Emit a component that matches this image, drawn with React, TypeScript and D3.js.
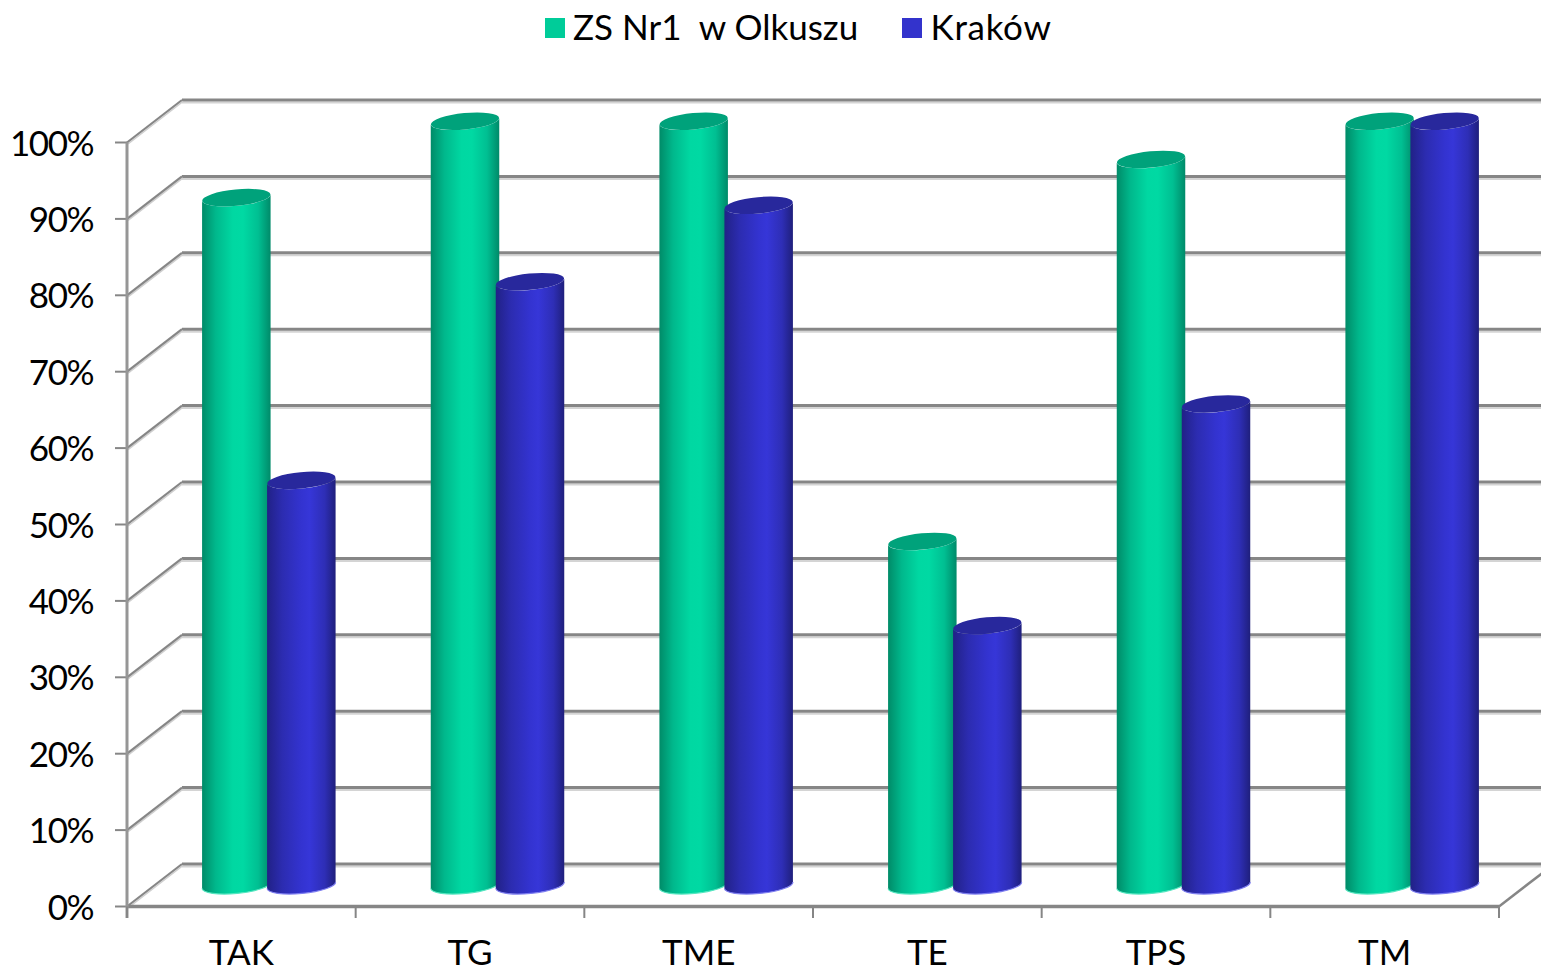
import React from "react";
import * as d3 from "d3";

const categories = ["TAK", "TG", "TME", "TE", "TPS", "TM"];
const olkuszValues = [90, 100, 100, 45, 95, 100];
const krakowValues = [53, 79, 89, 34, 63, 100];
const yTicks = [0, 10, 20, 30, 40, 50, 60, 70, 80, 90, 100];
const seriesNames = ["ZS Nr1  w Olkuszu", "Kraków"];

const W = 1541, H = 970;
const FONT = "Lato, 'Open Sans', sans-serif";
const GRID = "#868686";
const y = d3.scaleLinear().domain([0, 100]).range([906.5, 142.5]);
const x = d3.scaleBand<string>().domain(categories).range([127, 1499]);
const DX = 55, DY = -42.5;
const BW = 68.5, RY = 8.2, TILT = 3.3;

function Cylinder({ cx, value, grad, top, edge }: { cx: number; value: number; grad: string; top: string; edge: string }) {
  const yTop = y(value) + DY / 2;
  const yBase = y(0) + DY / 2;
  const l = cx - BW / 2, r = cx + BW / 2;
  const rx = BW / 2;
  const rot = -5.5;
  const body = `M${l},${yTop + TILT} L${l},${yBase + TILT} A${rx},${RY} ${rot} 0 0 ${r},${yBase - TILT} L${r},${yTop - TILT} A${rx},${RY} ${rot} 0 1 ${l},${yTop + TILT} Z`;
  const bottom = `M${l},${yBase + TILT} A${rx},${RY} ${rot} 0 0 ${r},${yBase - TILT}`;
  return (
    <g>
      <path d={body} fill={`url(#${grad})`} />
      <path d={bottom} fill="none" stroke={edge} strokeWidth={1.2} />
      <ellipse cx={cx} cy={yTop} rx={rx} ry={RY} fill={top} transform={`rotate(${rot} ${cx} ${yTop})`} />
    </g>
  );
}

export default function App() {
  return (
    <svg width={W} height={H} viewBox={`0 0 ${W} ${H}`} style={{ position: "absolute", left: 0, top: 0, background: "#fff" }}>
      <defs>
        <linearGradient id="gGreen" x1="0" x2="1" y1="0" y2="0">
          <stop offset="0" stopColor="#008b68" />
          <stop offset="0.2" stopColor="#00b88c" />
          <stop offset="0.45" stopColor="#00d8a2" />
          <stop offset="0.6" stopColor="#00d9a3" />
          <stop offset="0.82" stopColor="#00bf92" />
          <stop offset="1" stopColor="#008a69" />
        </linearGradient>
        <linearGradient id="gBlue" x1="0" x2="1" y1="0" y2="0">
          <stop offset="0" stopColor="#212186" />
          <stop offset="0.22" stopColor="#2c2cb0" />
          <stop offset="0.5" stopColor="#3333d0" />
          <stop offset="0.62" stopColor="#3636d8" />
          <stop offset="0.84" stopColor="#2e2eb6" />
          <stop offset="1" stopColor="#1f1f7c" />
        </linearGradient>
      </defs>

      {yTicks.map((t) => (
        <g key={t}>
          <line x1={127 + DX} x2={W} y1={y(t) + DY + 2.5} y2={y(t) + DY + 2.5} stroke="#d4d4d4" strokeWidth={2} />
          <line x1={127 + DX} x2={W} y1={y(t) + DY} y2={y(t) + DY} stroke={GRID} strokeWidth={3} />
          <line x1={128} x2={127 + DX + 1} y1={y(t) + 1.5} y2={y(t) + DY + 1.5} stroke="#cfcfcf" strokeWidth={1.5} />
          <line x1={127} x2={127 + DX} y1={y(t)} y2={y(t) + DY} stroke={GRID} strokeWidth={2.2} />
          <line x1={115} x2={127} y1={y(t)} y2={y(t)} stroke={GRID} strokeWidth={2} />
          <text x={93} y={y(t) + 13} textAnchor="end" fontFamily={FONT} fontSize={35} letterSpacing={-1.5} fill="#000">{t}%</text>
        </g>
      ))}

      <line x1={127} x2={1499} y1={y(0)} y2={y(0)} stroke={GRID} strokeWidth={3.5} />
      <line x1={127} x2={127} y1={y(100)} y2={918} stroke="#969696" strokeWidth={3} />
      <line x1={1499} x2={1499 + DX} y1={y(0)} y2={y(0) + DY} stroke={GRID} strokeWidth={2.5} />
      {categories.concat("").map((c, i) => {
        const px = 127 + i * x.bandwidth();
        return <line key={i} x1={px} x2={px} y1={y(0)} y2={918} stroke={GRID} strokeWidth={2} />;
      })}

      {categories.map((c, i) => {
        const cx = (x(c) as number) + x.bandwidth() / 2 + DX / 2;
        return (
          <g key={c}>
            <Cylinder cx={cx - 32.5} value={olkuszValues[i]} grad="gGreen" top="#00a27b" edge="#55e6c0" />
            <Cylinder cx={cx + 32.5} value={krakowValues[i]} grad="gBlue" top="#28289c" edge="#7f7ff0" />
            <text x={(x(c) as number) + x.bandwidth() / 2} y={965} textAnchor="middle" fontFamily={FONT} fontSize={35} fill="#000">{c}</text>
          </g>
        );
      })}

      <rect x={545} y={18} width={20} height={20} fill="#00cc99" />
      <text x={573} y={40} fontFamily={FONT} fontSize={35} fill="#000" xmlSpace="preserve">{seriesNames[0]}</text>
      <rect x={902} y={18} width={20} height={20} fill="#3333cc" />
      <text x={930.5} y={40} fontFamily={FONT} fontSize={35} letterSpacing={0.7} fill="#000">{seriesNames[1]}</text>
    </svg>
  );
}
